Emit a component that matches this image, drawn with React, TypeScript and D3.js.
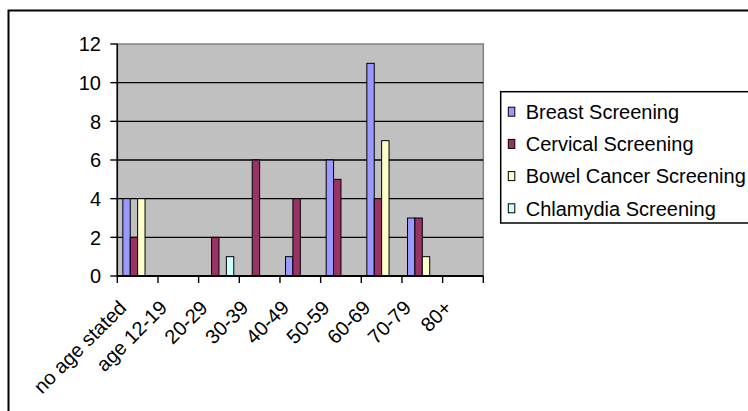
import React from 'react';
import * as d3 from 'd3';

// categories and series
const categories = ['no age stated', 'age 12-19', '20-29', '30-39', '40-49', '50-59', '60-69', '70-79', '80+'];
const seriesNames = ['Breast Screening', 'Cervical Screening', 'Bowel Cancer Screening', 'Chlamydia Screening'];
const breast = [4, 0, 0, 0, 1, 6, 11, 3, 0];
const cervical = [2, 0, 2, 6, 4, 5, 4, 3, 0];
const bowel = [4, 0, 0, 0, 0, 0, 7, 1, 0];
const chlamydia = [0, 0, 1, 0, 0, 0, 0, 0, 0];
const yTicks = [0, 2, 4, 6, 8, 10, 12];
const colors = ['#9999FF', '#993366', '#FFFFCC', '#CCFFFF'];

const W = 748;
const H = 411;
const plot = { left: 117.3, right: 483.3, top: 44, bottom: 276 };
const FONT = '"Liberation Sans", Arial, sans-serif';
const FS = 20;

const App = () => {
  const series = [breast, cervical, bowel, chlamydia];

  const x = d3.scaleBand().domain(categories).range([plot.left, plot.right]).padding(0);
  const catW = x.bandwidth();
  // Excel gap width ~150%: bars take catW / (n + 1.5)
  const barW = catW / (series.length + 1.5);
  const inner = d3.scaleBand()
    .domain(d3.range(series.length).map(String))
    .range([0, barW * series.length])
    .padding(0);
  const groupOffset = (catW - barW * series.length) / 2;

  const y = d3.scaleLinear().domain([0, 12]).range([plot.bottom, plot.top]);

  const bars = [];
  series.forEach((vals, si) => {
    vals.forEach((v, ci) => {
      if (v <= 0) return;
      bars.push({
        key: `${si}-${ci}`,
        x: x(categories[ci]) + groupOffset + inner(String(si)),
        y: y(v),
        h: y(0) - y(v),
        fill: colors[si],
      });
    });
  });

  const catTicks = d3.range(categories.length + 1).map(i => plot.left + i * catW);

  return (
    <svg width={W} height={H} style={{ position: 'absolute', left: 0, top: 0 }} fontFamily={FONT}>
      <rect x={0} y={0} width={W} height={H} fill="white" />
      {/* chart border (cut off at right and bottom) */}
      <rect x={8.5} y={10.5} width={W + 20} height={H + 20} fill="none" stroke="#000" strokeWidth={2} />

      {/* plot area */}
      <rect x={plot.left} y={plot.top} width={plot.right - plot.left} height={plot.bottom - plot.top}
        fill="#C0C0C0" stroke="#808080" strokeWidth={1.5} />

      {/* gridlines */}
      {yTicks.filter(t => t > 0 && t < 12).map(t => (
        <line key={t} x1={plot.left} x2={plot.right} y1={y(t)} y2={y(t)} stroke="#000" strokeWidth={1.4} />
      ))}

      {/* bars */}
      {bars.map(b => (
        <rect key={b.key} x={b.x} y={b.y} width={barW} height={b.h} fill={b.fill} stroke="#000" strokeWidth={1} />
      ))}

      {/* y axis */}
      <line x1={plot.left} x2={plot.left} y1={plot.top} y2={plot.bottom} stroke="#000" strokeWidth={1.5} />
      {yTicks.map(t => (
        <g key={t}>
          <line x1={plot.left - 7} x2={plot.left} y1={y(t)} y2={y(t)} stroke="#000" strokeWidth={1.4} />
          <text x={101} y={y(t)} dy="0.36em" textAnchor="end" fontSize={FS} fill="#000">{t}</text>
        </g>
      ))}

      {/* x axis */}
      <line x1={plot.left} x2={plot.right} y1={plot.bottom} y2={plot.bottom} stroke="#000" strokeWidth={2} />
      {catTicks.map((tx, i) => (
        <line key={i} x1={tx} x2={tx} y1={plot.bottom} y2={plot.bottom + 7} stroke="#000" strokeWidth={1.4} />
      ))}
      {categories.map(c => {
        const cx = x(c) + catW / 2 - 10;
        const cy = plot.bottom + 33;
        return (
          <text key={c} x={cx} y={cy} textAnchor="end" fontSize={FS} fill="#000"
            transform={`rotate(-45, ${cx}, ${cy})`}>{c}</text>
        );
      })}

      {/* legend */}
      <rect x={500.7} y={91.7} width={W} height={131.3} fill="white" stroke="#000" strokeWidth={1.5} />
      {seriesNames.map((n, i) => {
        const cy = 111.7 + i * 32.2;
        return (
          <g key={n}>
            <rect x={508.3} y={cy - 4.5} width={6.5} height={9} fill={colors[i]} stroke="#000" strokeWidth={1} />
            <text x={525.7} y={cy} dy="0.36em" fontSize={FS} fill="#000">{n}</text>
          </g>
        );
      })}
    </svg>
  );
};

export default App;
